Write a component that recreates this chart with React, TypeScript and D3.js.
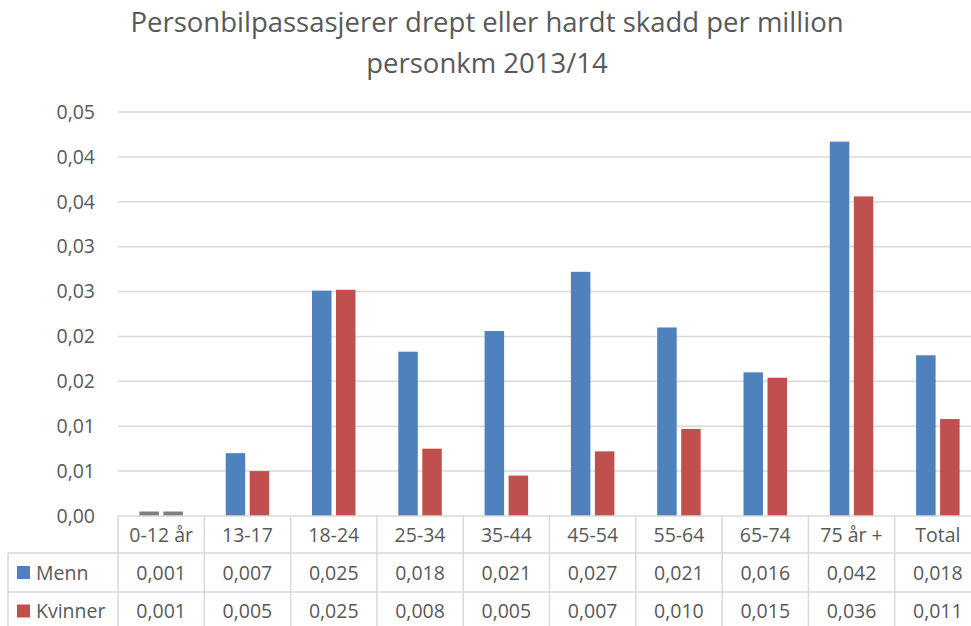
import React from "react";
import * as d3 from "d3";

const categories = ["0-12 år", "13-17", "18-24", "25-34", "35-44", "45-54", "55-64", "65-74", "75 år +", "Total"];
const menn = [0.0005, 0.007, 0.0251, 0.0183, 0.0206, 0.0272, 0.021, 0.016, 0.0417, 0.0179];
const kvinner = [0.0005, 0.005, 0.0252, 0.0075, 0.0045, 0.0072, 0.0097, 0.0154, 0.0356, 0.0108];
const mennLabels = ["0,001", "0,007", "0,025", "0,018", "0,021", "0,027", "0,021", "0,016", "0,042", "0,018"];
const kvinnerLabels = ["0,001", "0,005", "0,025", "0,008", "0,005", "0,007", "0,010", "0,015", "0,036", "0,011"];
const tickValues = [0, 0.005, 0.01, 0.015, 0.02, 0.025, 0.03, 0.035, 0.04, 0.045];
const tickLabels = ["0,00", "0,01", "0,01", "0,02", "0,02", "0,03", "0,03", "0,04", "0,04", "0,05"];
const seriesNames = ["Menn", "Kvinner"];
const titleLines = ["Personbilpassasjerer drept eller hardt skadd per million", "personkm 2013/14"];

const W = 971;
const H = 626;
const FONT = "'Open Sans', sans-serif";
const TEXT = "#595959";
const GRID = "#D9D9D9";
const BLUE = "#4F81BD";
const RED = "#C0504D";
const GREY = "#7F7F7F";

export default function App() {
  const plotLeft = 118;
  const colW = 86.3;
  const x = d3.scaleBand<string>().domain(categories).range([plotLeft, plotLeft + colW * categories.length]).paddingInner(0).paddingOuter(0);
  const y = d3.scaleLinear().domain([0, 0.045]).range([516, 112]);
  const barW = 19.5;
  const gap = 4.5;
  const rowTop = [516, 553, 592, 630];
  const tableLeft = 8;
  const right = plotLeft + colW * categories.length;
  const series = [menn, kvinner];
  const seriesLabels = [mennLabels, kvinnerLabels];
  const colors = [BLUE, RED];

  return (
    <svg width={W} height={H} style={{ position: "absolute", left: 0, top: 0, background: "#fff" }} fontFamily={FONT}>
      <rect x={0} y={0} width={W} height={H} fill="#fff" />
      {titleLines.map((t, i) => (
        <text key={t} x={487} y={32 + i * 41} textAnchor="middle" fontSize={27.5} fill={TEXT}>
          {t}
        </text>
      ))}
      {tickValues.map((v, i) => (
        <g key={i}>
          {i > 0 && <line x1={plotLeft} x2={W} y1={y(v)} y2={y(v)} stroke={GRID} strokeWidth={1.5} />}
          <text x={95} y={y(v)} dy="0.35em" textAnchor="end" fontSize={19.5} fill={TEXT}>
            {tickLabels[i]}
          </text>
        </g>
      ))}
      {categories.map((c, ci) => {
        const cx = (x(c) as number) + x.bandwidth() / 2;
        return (
          <g key={c}>
            {series.map((s, si) => {
              const bx = si === 0 ? cx - gap / 2 - barW : cx + gap / 2;
              const fill = ci === 0 ? GREY : colors[si];
              return <rect key={si} x={bx} y={y(s[ci])} width={barW} height={y(0) - y(s[ci])} fill={fill} />;
            })}
          </g>
        );
      })}
      <line x1={plotLeft} x2={right} y1={rowTop[0]} y2={rowTop[0]} stroke={GRID} strokeWidth={1.5} />
      {[1, 2, 3].map((r) => (
        <line key={r} x1={tableLeft} x2={right} y1={rowTop[r]} y2={rowTop[r]} stroke={GRID} strokeWidth={1.5} />
      ))}
      <line x1={tableLeft} x2={tableLeft} y1={rowTop[1]} y2={rowTop[3]} stroke={GRID} strokeWidth={1.5} />
      {d3.range(categories.length + 1).map((i) => (
        <line key={i} x1={plotLeft + i * colW} x2={plotLeft + i * colW} y1={rowTop[0]} y2={rowTop[3]} stroke={GRID} strokeWidth={1.5} />
      ))}
      {categories.map((c) => (
        <text key={c} x={(x(c) as number) + x.bandwidth() / 2} y={(rowTop[0] + rowTop[1]) / 2} dy="0.36em" textAnchor="middle" fontSize={19.5} fill={TEXT}>
          {c}
        </text>
      ))}
      {seriesNames.map((n, si) => {
        const cy = (rowTop[si + 1] + rowTop[si + 2]) / 2;
        return (
          <g key={n}>
            <rect x={17} y={cy - 6.5} width={13} height={13} fill={colors[si]} />
            <text x={36} y={cy} dy="0.36em" fontSize={19.5} fill={TEXT}>
              {n}
            </text>
            {categories.map((c, ci) => (
              <text key={c} x={(x(c) as number) + x.bandwidth() / 2} y={cy} dy="0.36em" textAnchor="middle" fontSize={19.5} fill={TEXT}>
                {seriesLabels[si][ci]}
              </text>
            ))}
          </g>
        );
      })}
    </svg>
  );
}
